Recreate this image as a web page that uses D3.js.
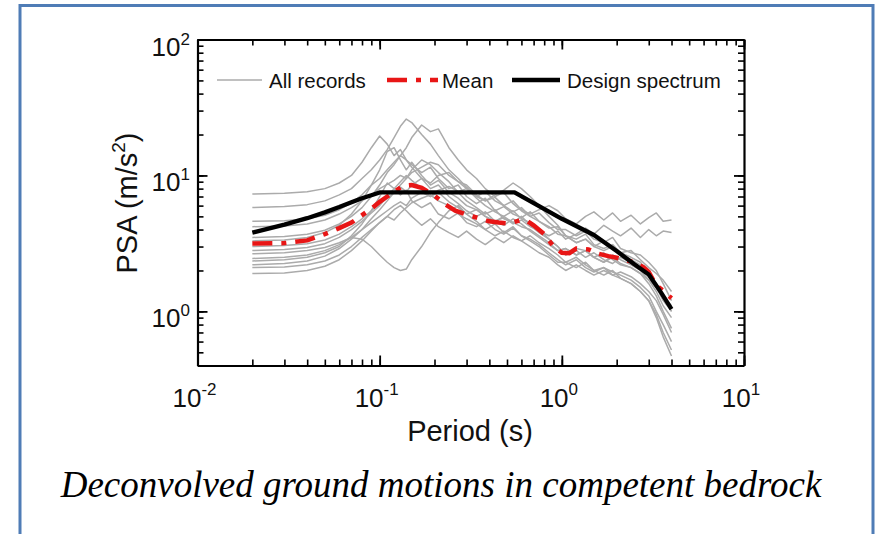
<!DOCTYPE html>
<html>
<head>
<meta charset="utf-8">
<script src="https://cdn.jsdelivr.net/npm/d3@7"></script>
<style>
body { margin: 0; background: #fff; }
svg text { font-family: "Liberation Sans", Arial, sans-serif; fill: #111; }
</style>
</head>
<body>
<svg width="875" height="534"></svg>
<script>
// periods shared by all the individual records (s)
const periods = [0.02,0.03,0.04,0.05,0.06,0.07,0.08,0.09,0.1,0.11,0.12,0.13,0.14,0.15,0.17,0.19,0.21,0.24,0.27,0.3,
  0.34,0.38,0.43,0.48,0.54,0.6,0.67,0.75,0.85,0.95,1.05,1.2,1.35,1.5,1.7,1.9,2.1,2.4,2.7,3.0,3.3,3.6,4.0];

// PSA of each record (m/s2)
const record1 = [7.3,7.4,7.6,8.0,8.8,10.0,12.5,16,19.5,17,14,15.5,13,12,10.5,11.5,9.5,8,8.5,7,
  6.2,6.8,5.5,5.9,5.2,4.9,5.4,4.6,4.1,4.2,3.6,3.4,3.7,3.1,2.9,3.1,2.7,2.5,2.3,1.9,1.6,1.3,1.0];
const record2 = [5.8,5.9,6.1,6.5,7.2,8.0,9.5,11,13,15.5,19,23,26,24.5,20,17,14,11,9.5,8.2,
  7.0,7.6,6.5,6.0,5.4,5.8,5.0,4.6,4.2,3.7,3.6,3.2,3.4,3.0,3.3,2.9,2.7,2.8,2.4,2.1,1.9,1.7,1.4];
const record3 = [4.6,4.65,4.8,5.1,5.6,6.3,7.2,8.5,9.5,11,12.5,14,16,19,23.5,21,22,16,13,11,
  9.5,8.0,7.0,7.5,6.2,5.5,5.0,5.3,4.5,4.0,4.0,3.6,3.9,3.4,3.2,3.5,2.9,2.7,2.6,2.3,2.0,1.6,1.2];
const record4 = [4.2,4.25,4.4,4.7,5.2,5.8,6.5,7.2,8.0,8.6,9.2,10,9.5,10.5,11.5,12.5,12,10,9,8.5,
  7.2,6.5,6.9,6.0,6.5,5.6,5.2,5.6,6.0,5.5,4.8,4.4,5.0,5.4,4.7,5.3,4.6,5.1,4.4,4.9,5.3,4.6,4.7];
const record5 = [3.5,3.55,3.7,3.95,4.4,5.0,5.8,7.0,8.5,10.5,12,14,13,11.5,9.5,8,8.5,7,6.2,5.5,
  5.0,5.4,4.6,4.3,4.8,4.4,3.9,3.5,3.1,2.8,2.9,2.6,2.8,2.5,2.7,2.4,2.2,2.1,1.9,1.6,1.3,1.0,0.75];
const record6 = [3.0,3.05,3.15,3.35,3.7,4.2,4.8,5.5,6.2,6.8,7.5,8.2,7.6,8.5,9.5,8.8,10,10.5,9,8,
  6.8,6.0,5.4,5.0,5.5,4.8,4.5,4.0,3.4,3.0,2.6,2.9,2.8,2.5,2.3,2.6,2.4,2.2,2.0,1.7,1.4,1.1,0.9];
const record7 = [2.65,2.7,2.8,2.95,3.2,3.5,3.4,3.0,2.6,2.3,2.1,2.0,2.05,2.4,3.0,3.8,4.5,5.5,6.0,5.2,
  4.6,4.0,4.4,3.8,4.2,3.6,3.4,3.1,2.7,2.4,2.2,2.4,2.1,1.95,2.1,1.95,1.85,1.7,1.5,1.3,1.0,0.8,0.6];
const record8 = [2.35,2.4,2.5,2.7,3.0,3.6,4.4,5.5,7.0,8.8,8.0,7.2,7.8,6.5,5.8,6.3,5.2,4.8,5.3,4.5,
  4.2,4.6,4.0,3.7,4.1,3.6,3.3,3.0,2.6,2.3,2.3,2.1,2.3,2.0,1.85,2.0,1.75,1.6,1.4,1.2,0.9,0.65,0.47];
const record9 = [2.2,2.25,2.35,2.55,2.9,3.4,4.0,4.8,5.6,6.5,7.5,8.5,9.5,11,13,12,10.5,9,7.5,6.5,
  5.8,5.2,5.6,4.8,4.5,5.0,4.3,3.8,3.4,3.0,2.6,2.8,2.5,2.7,2.4,2.25,2.5,2.3,2.1,1.8,1.5,1.2,1.0];
const record10 = [2.1,2.12,2.2,2.35,2.6,3.0,3.5,4.0,4.5,5.0,4.7,5.3,5.8,6.3,6.8,7.2,6.5,6.0,5.2,4.8,
  4.4,4.0,3.6,3.9,3.5,3.3,3.6,3.2,2.9,2.6,2.3,2.5,2.2,2.0,2.1,1.85,1.95,1.8,1.6,1.4,1.2,0.95,0.7];
const record11 = [1.9,1.92,2.0,2.15,2.4,2.8,3.3,3.9,4.5,5.0,5.6,6.0,5.5,5.0,4.3,4.8,4.2,3.8,3.5,3.9,
  3.4,3.1,3.5,3.2,3.6,3.3,3.0,2.7,2.5,2.2,2.0,2.2,2.0,1.85,2.0,1.85,1.75,1.6,1.4,1.2,0.95,0.7,0.52];
const record12 = [3.3,3.35,3.5,3.8,4.3,5.2,6.5,8.5,11,15,16,13,11,12.5,10,8.5,9.2,7.5,6.8,6.0,
  5.6,5.0,4.6,5.0,4.5,4.2,4.0,3.6,3.2,2.8,2.9,2.6,2.8,2.5,2.3,2.5,2.25,2.1,1.9,1.7,1.5,1.3,1.1];
const record13 = [2.8,2.85,2.95,3.15,3.5,4.0,4.6,5.3,6.0,7.0,8.0,9.0,10,9.2,8.0,7.0,7.5,6.4,5.8,5.2,
  5.6,5.0,4.6,4.9,4.4,4.7,4.2,3.9,3.6,3.9,3.4,3.7,4.1,3.7,4.3,3.9,3.6,4.1,3.5,4.0,3.6,3.9,3.8];
const record14 = [2.45,2.5,2.6,2.8,3.1,3.5,4.0,4.5,5.0,5.5,6.0,6.4,6.0,6.8,7.5,7.0,7.8,8.3,7.6,8.0,
  7.0,6.5,7.2,7.8,8.8,8.0,7.0,6.0,5.0,4.3,3.6,3.2,3.4,3.0,2.8,3.0,2.6,2.4,2.2,1.9,1.6,1.3,1.05];
const records = [record1, record2, record3, record4, record5, record6, record7,
  record8, record9, record10, record11, record12, record13, record14];

// mean spectrum
const meanPeriods = [0.02,0.03,0.04,0.05,0.06,0.07,0.08,0.09,0.1,0.11,0.12,0.135,0.15,0.17,0.2,0.23,0.26,0.3,
  0.35,0.4,0.45,0.5,0.55,0.6,0.65,0.7,0.8,0.9,1.0,1.1,1.2,1.4,1.6,1.8,2.0,2.2,2.5,2.8,3.0,3.3,3.6,4.0];
const meanValues = [3.16,3.18,3.33,3.7,4.1,4.5,5.1,5.7,6.4,7.0,7.6,8.4,8.5,8.1,7.1,6.1,5.5,5.15,
  4.85,4.6,4.5,4.45,4.55,4.7,4.6,4.3,3.7,3.0,2.7,2.68,2.9,2.86,2.65,2.55,2.48,2.4,2.3,2.12,1.95,1.55,1.42,1.25];

// design spectrum
const designPeriods = [0.02,0.03,0.04,0.05,0.06,0.07,0.08,0.09,0.1,0.55,0.75,1.0,1.5,2.0,2.5,3.0,3.5,4.0];
const designValues = [3.8,4.35,4.85,5.35,5.85,6.35,6.8,7.15,7.5,7.5,5.95,4.8,3.65,2.78,2.22,1.87,1.38,1.04];

const xMajor = [0.01, 0.1, 1, 10];
const xMajorExp = ["-2", "-1", "0", "1"];
const yMajor = [1, 10, 100];
const yMajorExp = ["0", "1", "2"];
const legendLabels = ["All records", "Mean", "Design spectrum"];

const svg = d3.select("svg");
const plotLeft = 197.5, plotRight = 744, plotTop = 39.5, plotBottom = 365.5;

const x = d3.scaleLog().domain([0.01, 10]).range([plotLeft, plotRight]);
const y = d3.scaleLog().domain([0.4, 100]).range([plotBottom, plotTop]);

// blue frame
svg.append("rect")
  .attr("x", 20).attr("y", 5.5)
  .attr("width", 853).attr("height", 560)
  .attr("fill", "none")
  .attr("stroke", "#4f7cb6")
  .attr("stroke-width", 3);

// records
const recLine = d3.line()
  .x((d, i) => x(periods[i]))
  .y(d => y(d));
svg.append("g")
  .selectAll("path")
  .data(records)
  .enter()
  .append("path")
  .attr("d", recLine)
  .attr("fill", "none")
  .attr("stroke", "#ababab")
  .attr("stroke-width", 1.5)
  .attr("stroke-linejoin", "round");

const pairLine = d3.line()
  .x(d => x(d[0]))
  .y(d => y(d[1]));

// mean
svg.append("path")
  .attr("d", pairLine(d3.zip(meanPeriods, meanValues)))
  .attr("fill", "none")
  .attr("stroke", "#e81616")
  .attr("stroke-width", 4.5)
  .attr("stroke-dasharray", "20,9,5,9");

// design spectrum
svg.append("path")
  .attr("d", pairLine(d3.zip(designPeriods, designValues)))
  .attr("fill", "none")
  .attr("stroke", "#000")
  .attr("stroke-width", 4.3)
  .attr("stroke-linejoin", "round");

// axes: minor + major ticks on all four sides, pointing inwards
function drawAxis(gen, transform, major, minor) {
  const g = svg.append("g").attr("transform", transform);
  g.call(gen.tickValues(minor).tickSize(-6).tickSizeOuter(0).tickFormat(""));
  g.select(".domain").remove();
  const g2 = svg.append("g").attr("transform", transform);
  g2.call(gen.tickValues(major).tickSize(-10).tickSizeOuter(0).tickFormat(""));
  g.selectAll("line").attr("stroke-width", 1.6);
  g2.selectAll("line").attr("stroke-width", 1.8);
  g2.select(".domain").attr("stroke-width", 2.2);
}
drawAxis(d3.axisBottom(x), `translate(0,${plotBottom})`, xMajor, x.ticks());
drawAxis(d3.axisTop(x), `translate(0,${plotTop})`, xMajor, x.ticks());
drawAxis(d3.axisLeft(y), `translate(${plotLeft},0)`, yMajor, y.ticks());
drawAxis(d3.axisRight(y), `translate(${plotRight},0)`, yMajor, y.ticks());

// tick labels with exponents
const xl = svg.append("g")
  .selectAll("text")
  .data(xMajor)
  .enter()
  .append("text")
  .attr("x", d => x(d) - 3)
  .attr("y", 407)
  .attr("text-anchor", "middle")
  .style("font-size", "26px");
xl.append("tspan").text("10");
xl.append("tspan").attr("dy", -12).style("font-size", "17px").text((d, i) => xMajorExp[i]);

const yl = svg.append("g")
  .selectAll("text")
  .data(yMajor)
  .enter()
  .append("text")
  .attr("x", 190)
  .attr("y", d => y(d) + 16)
  .attr("text-anchor", "end")
  .style("font-size", "26px");
yl.append("tspan").text("10");
yl.append("tspan").attr("dy", -11).style("font-size", "17px").text((d, i) => yMajorExp[i]);

// axis titles
svg.append("text")
  .attr("x", 470).attr("y", 441)
  .attr("text-anchor", "middle")
  .style("font-size", "29px")
  .text("Period (s)");

const yt = svg.append("text")
  .attr("transform", "translate(137,203) rotate(-90)")
  .attr("text-anchor", "middle")
  .style("font-size", "29px");
yt.append("tspan").text("PSA (m/s");
yt.append("tspan").attr("dy", -12).style("font-size", "19px").text("2");
yt.append("tspan").attr("dy", 12).text(")");

// legend
const legY = 80;
const legend = svg.append("g");
legend.append("line").attr("x1", 217).attr("x2", 262).attr("y1", legY).attr("y2", legY)
  .attr("stroke", "#ababab").attr("stroke-width", 1.5);
legend.append("line").attr("x1", 387).attr("x2", 438).attr("y1", legY).attr("y2", legY)
  .attr("stroke", "#e81616").attr("stroke-width", 4.5).attr("stroke-dasharray", "20,9,5,9");
legend.append("line").attr("x1", 512).attr("x2", 560).attr("y1", legY).attr("y2", legY)
  .attr("stroke", "#000").attr("stroke-width", 4.3);
legend.selectAll("text")
  .data(legendLabels)
  .enter()
  .append("text")
  .attr("x", (d, i) => [269, 442, 567][i])
  .attr("y", legY + 7.5)
  .style("font-size", "20.5px")
  .text(d => d);

// caption
svg.append("text")
  .attr("x", 441).attr("y", 497)
  .attr("text-anchor", "middle")
  .style("font-family", "'Liberation Serif', 'Times New Roman', serif")
  .style("font-style", "italic")
  .style("font-size", "37px")
  .style("fill", "#000")
  .text("Deconvolved ground motions in competent bedrock");
</script>
</body>
</html>
